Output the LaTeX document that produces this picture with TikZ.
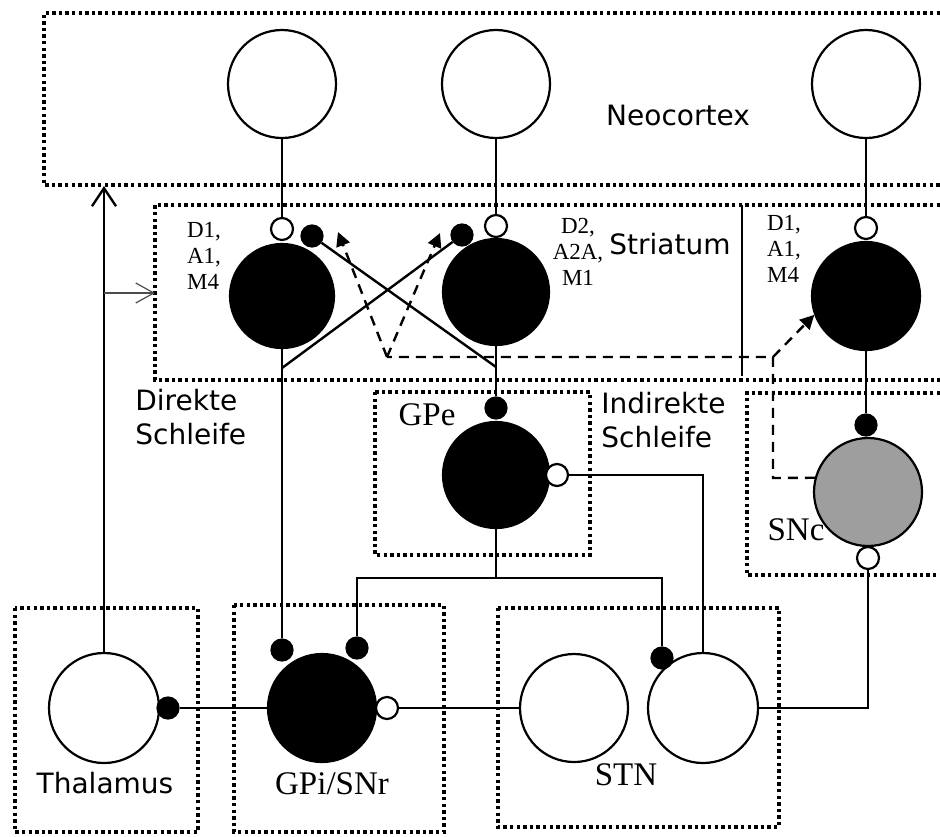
\documentclass[tikz,border=0pt]{standalone}
\usepackage{fontspec}
\setmainfont{Liberation Serif}
\newfontfamily\sansf{DejaVu Sans}
\usetikzlibrary{arrows.meta}
\begin{document}
\begin{tikzpicture}[x=0.5pt,y=-0.5pt,
  box/.style={line width=1.7pt, dash pattern=on 1.7pt off 1.6pt},
  wire/.style={line width=1.2pt},
  dwire/.style={line width=1.2pt, dash pattern=on 5pt off 3.5pt},
  darrow/.style={dwire, -{Triangle[length=7pt,width=7pt]}},
  neuron/.style={circle, draw, line width=1.1pt, inner sep=0pt, minimum size=54pt},
  blackn/.style={neuron, fill=black},
  openn/.style={neuron, fill=white},
  synopen/.style={circle, draw, line width=1.1pt, inner sep=0pt, minimum size=11pt, fill=white},
  synblack/.style={circle, draw, line width=1.1pt, inner sep=0pt, minimum size=10.5pt, fill=black},
  sanslabel/.style={font=\sansf\fontsize{14}{17}\selectfont, inner sep=0pt},
  seriflabel/.style={font=\fontsize{16.5}{19}\selectfont, inner sep=0pt},
  rcpt/.style={font=\fontsize{11.5}{13}\selectfont, inner sep=0pt},
]
\useasboundingbox (0,0) rectangle (940,836);
\fill[white] (0,0) rectangle (940,836);

% ---- region boxes ----
\draw[box] (940,13) -- (44,13) -- (44,185) -- (940,185);
\draw[box] (940,205) -- (155,205) -- (155,380) -- (940,380);
\draw[box] (375,392) rectangle (590,555);
\draw[box] (940,393) -- (747,393) -- (747,575) -- (940,575);
\draw[box] (15,608) rectangle (198,832);
\draw[box] (234,605) rectangle (444,832);
\draw[box] (498,608) rectangle (779,827);
\draw[wire] (742,205) -- (742,376);

% ---- neocortex ----
\node[openn] (c1) at (282,84) {};
\node[openn] (c2) at (496,84) {};
\node[openn] (c3) at (866,84) {};
\node[sanslabel] (neo) at (678,115) {Neocortex};

% ---- striatum ----
\node[blackn, minimum size=52pt] (s1) at (282,296) {};
\node[blackn, minimum size=53pt] (s2) at (496,292) {};
\node[blackn] (s3) at (866,296) {};
\node[synopen] (o1) at (282,229) {};
\node[synopen] (o2) at (496,226) {};
\node[synopen] (o3) at (866,228) {};
\node[synblack] (b1) at (312,236) {};
\node[synblack] (b2) at (462,235) {};
\node[sanslabel] (str) at (670,244) {Striatum};
\node[rcpt, align=left] (r1) at (204,256) {D1,\\A1,\\M4};
\node[rcpt, align=center] (r2) at (578,252) {D2,\\A2A,\\M1};
\node[rcpt, align=left] (r3) at (784,249) {D1,\\A1,\\M4};

% ---- GPe ----
\node[blackn, minimum size=53pt] (g) at (496,475) {};
\node[synblack] (gd) at (496,408) {};
\node[synopen] (go) at (557,475) {};
\node[seriflabel] (gpel) at (427,415) {GPe};

% ---- loop labels ----
\node[sanslabel, align=left, anchor=west] (dir) at (135,417) {Direkte\\Schleife};
\node[sanslabel, align=left, anchor=west] (ind) at (601,420) {Indirekte\\Schleife};

% ---- SNc ----
\node[neuron, fill=black!38] (k) at (868,492) {};
\node[synblack] (kb) at (866,425) {};
\node[synopen] (ko) at (868,558) {};
\node[seriflabel] (sncl) at (796,530) {SNc};

% ---- thalamus ----
\node[openn, minimum size=55pt] (t) at (104,708) {};
\node[synblack] (tb) at (168,708) {};
\node[sanslabel] (thl) at (105,783) {Thalamus};

% ---- GPi/SNr ----
\node[blackn, minimum size=54pt] (p) at (322,708) {};
\node[synblack] (pb1) at (282,650) {};
\node[synblack] (pb2) at (357,648) {};
\node[synopen] (po) at (387,708) {};
\node[seriflabel] (gpil) at (332,784) {GPi/SNr};

% ---- STN ----
\node[openn] (n1) at (574,708) {};
\node[openn, minimum size=55pt] (n2) at (703,708) {};
\node[synblack] (nb) at (662,658) {};
\node[seriflabel] (stnl) at (626,775) {STN};

% ---- helper coordinates ----
\coordinate (ax1) at (282,368);
\coordinate (ax2) at (496,367);
\coordinate (gj) at (496,578);
\coordinate (jl) at (357,578);
\coordinate (jr) at (662,578);
\coordinate (dl) at (387,357);
\coordinate (dr) at (773,357);
\coordinate (dk) at (773,478);
\coordinate (thtop) at (104,186);
\coordinate (thbr) at (104,293);
\coordinate (strin) at (155,293);

% ---- cortex to striatum ----
\draw[wire] (c1.south) -- (o1.north);
\draw[wire] (c2.south) -- (o2.north);
\draw[wire] (c3.south) -- (o3.north);

% ---- striatal outputs ----
\draw[wire] (s1.south) -- (pb1.north);
\draw[wire] (s2.south) -- (gd.north);
\draw[wire] (s3.south) -- (kb.north);
\draw[wire] (b1) -- (ax2);
\draw[wire] (b2) -- (ax1);

% ---- GPe outputs ----
\draw[wire] (go.east) -| (n2.north);
\draw[wire] (g.south) -- (gj);
\draw[wire] (pb2.north) -- (jl) -- (jr) -- (nb.north);

% ---- thalamus / GPi / STN / SNc ----
\draw[wire] (tb.east) -- (p.west);
\draw[wire] (po.east) -- (n1.west);
\draw[wire] (n2.east) -| (ko.south);

% ---- thalamocortical ----
\draw[wire, -{Straight Barb[length=9pt,width=12pt]}] (t.north) -- (thtop);
\draw[line width=0.6pt, black!70, -{Straight Barb[length=9pt,width=10pt]}] (thbr) -- (strin);

% ---- dopaminergic (dashed) ----
\draw[dwire] (k.165) -- (dk) -- (dr) -- (dl);
\draw[darrow] (dl) -- (338,232);
\draw[darrow] (dl) -- (440,233);
\draw[darrow] (dr) -- (s3.200);
\end{tikzpicture}
\end{document}
